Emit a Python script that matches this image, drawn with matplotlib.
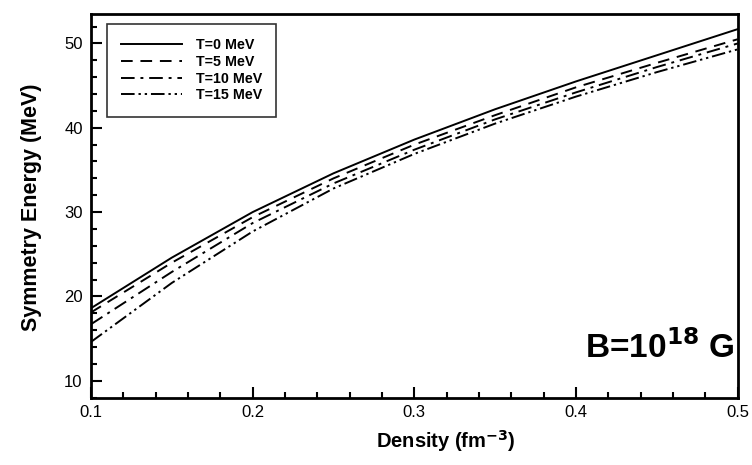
import matplotlib
matplotlib.use("Agg")
import matplotlib.pyplot as plt
from matplotlib.ticker import MultipleLocator

plt.rcParams['font.family'] = ['Liberation Sans', 'DejaVu Sans']

density = [0.1, 0.15, 0.2, 0.25, 0.3, 0.35, 0.4, 0.45, 0.5]
e_t0 = [18.6, 24.6, 30.0, 34.6, 38.6, 42.2, 45.5, 48.6, 51.7]
e_t5 = [18.1, 24.0, 29.4, 34.0, 38.0, 41.5, 44.8, 47.7, 50.5]
e_t10 = [16.7, 22.9, 28.7, 33.4, 37.4, 41.0, 44.2, 47.2, 50.0]
e_t15 = [14.6, 21.6, 27.7, 32.8, 36.9, 40.5, 43.7, 46.6, 49.3]
labels = ['T=0 MeV', 'T=5 MeV', 'T=10 MeV', 'T=15 MeV']

fig = plt.figure(figsize=(7.52, 4.65), dpi=100)
ax = fig.add_axes([0.121, 0.145, 0.860, 0.825])

styles = ['-', (0, (6, 4)), (0, (7, 3, 1.5, 3)), (0, (7, 2, 1.2, 2, 1.2, 2))]
for ys, lab, ls in zip([e_t0, e_t5, e_t10, e_t15], labels, styles):
    ax.plot(density, ys, color='black', lw=1.4, linestyle=ls, label=lab)

ax.set_xlim(0.1, 0.5)
ax.set_ylim(8, 53.5)
ax.xaxis.set_major_locator(MultipleLocator(0.1))
ax.xaxis.set_minor_locator(MultipleLocator(0.02))
ax.yaxis.set_major_locator(MultipleLocator(10))
ax.yaxis.set_minor_locator(MultipleLocator(2))
ax.tick_params(which='both', direction='in', width=1.5, labelsize=12)
ax.tick_params(which='major', length=8)
ax.tick_params(which='minor', length=4)
ax.tick_params(axis='y', pad=6)
ax.tick_params(axis='x', pad=5)
for s in ax.spines.values():
    s.set_linewidth(2)

ax.set_xlabel('Density (fm$^{\\mathbf{-3}}$)', fontsize=14.5, fontweight='bold')
ax.set_ylabel('Symmetry Energy (MeV)', fontsize=15.5, fontweight='bold')
ax.xaxis.set_label_coords(0.549, -0.08)
ax.yaxis.set_label_coords(-0.076, 0.497)

leg = ax.legend(loc='upper left', bbox_to_anchor=(0.025, 0.975),
                prop={'weight': 'bold', 'size': 10.3}, fancybox=False,
                edgecolor='black', handlelength=4.2, borderpad=1.0,
                labelspacing=0.2, handletextpad=1.0, borderaxespad=0)
leg.get_frame().set_linewidth(1.2)

ax.text(0.995, 0.13, r'B=10$^{\mathbf{18}}$ G', transform=ax.transAxes,
        ha='right', va='center', fontsize=24, fontweight='bold')

fig.savefig('out.png', dpi=100)
